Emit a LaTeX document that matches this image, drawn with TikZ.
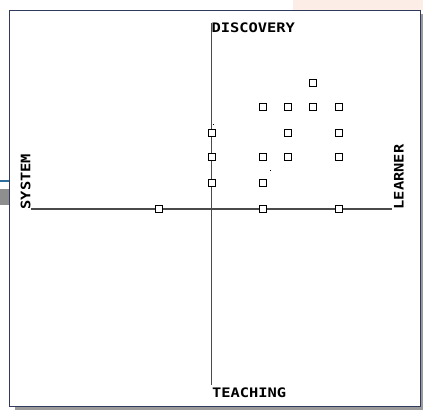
\documentclass[tikz,border=0pt]{standalone}
\usepackage{fontspec}
\newfontfamily\pixfont{DejaVu Sans Mono}
\definecolor{framec}{HTML}{2F3A5C}
\definecolor{shadowc}{HTML}{9A9A9A}
\definecolor{axisc}{HTML}{4A4A4A}
\definecolor{peach}{HTML}{FCEEE6}
\definecolor{bluel}{HTML}{2E6E9E}
\definecolor{grayb}{HTML}{8E8E8E}
\tikzset{
  pt/.style={draw=black, fill=white, line width=1.1pt, minimum size=6.5pt, inner sep=0pt, outer sep=0pt},
  lbl/.style={inner sep=0pt, outer sep=0pt, font=\pixfont\bfseries\fontsize{15.4}{16}\selectfont},
  axis/.style={draw=axisc, line width=1.9pt},
}
\newcommand{\squash}[1]{\scalebox{1}[0.85]{#1}}
\begin{document}
\begin{tikzpicture}[x=1pt,y=-1pt]
\useasboundingbox (0,0) rectangle (423,411);
% background artifacts
\fill[peach] (293,0) rectangle (423,10);
\draw[bluel, line width=1.5pt] (0,181) -- (9,181);
\fill[grayb] (0,189) rectangle (9,205);
% shadow and frame
\fill[shadowc] (15,14) rectangle (423,410.5);
\draw[framec, line width=1.4pt, fill=white] (9.5,10.5) rectangle (420.5,406.5);
% axes
\coordinate (ht) at (211.5,23);
\coordinate (hb) at (211.5,385);
\coordinate (vl) at (31,209);
\coordinate (vr) at (392,209);
\draw[axis] (vl) -- (vr);
\draw[axis] (ht) -- (hb);
% labels
\node[lbl, anchor=base west] (disc) at (211.5,33) {\squash{DISCOVERY}};
\node[lbl, anchor=base west] (teach) at (212,398) {\squash{TEACHING}};
\node[lbl, anchor=base west, rotate=90] (sys) at (30.5,209.5) {\squash{SYSTEM}};
\node[lbl, anchor=base west, rotate=90] (learn) at (403.5,209.5) {\squash{LEARNER}};
% data points
\node[pt] (s1) at (313,83) {};
\node[pt] (s2) at (263,107) {};
\node[pt] (s3) at (288,107) {};
\node[pt] (s4) at (313,107) {};
\node[pt] (s5) at (339,107) {};
\node[pt] (s6) at (212,133) {};
\node[pt] (s7) at (288,133) {};
\node[pt] (s8) at (339,133) {};
\node[pt] (s9) at (212,157) {};
\node[pt] (s10) at (263,157) {};
\node[pt] (s11) at (288,157) {};
\node[pt] (s12) at (339,157) {};
\node[pt] (s13) at (212,183) {};
\node[pt] (s14) at (263,183) {};
\node[pt] (s15) at (159,209) {};
\node[pt] (s16) at (263,209) {};
\node[pt] (s17) at (339,209) {};
% specks
\fill[black] (212.5,124.5) rectangle (213.5,125.5);
\fill[black] (269.5,170.5) rectangle (270.5,171.5);
\end{tikzpicture}
\end{document}
